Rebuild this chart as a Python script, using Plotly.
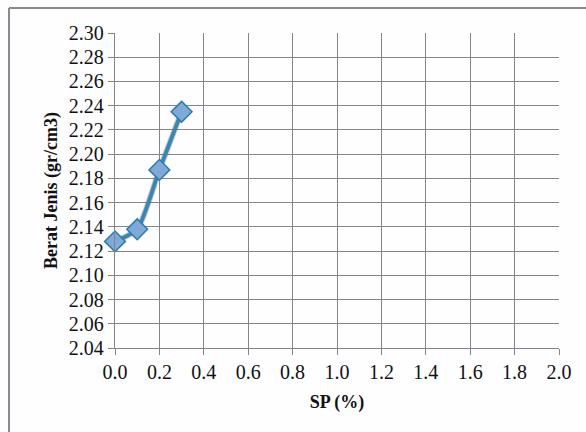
import plotly.graph_objects as go

sp = [0.0, 0.1, 0.2, 0.3]
berat_jenis = [2.128, 2.138, 2.187, 2.235]
x_ticks = [0.0, 0.2, 0.4, 0.6, 0.8, 1.0, 1.2, 1.4, 1.6, 1.8, 2.0]
y_ticks = [2.04, 2.06, 2.08, 2.10, 2.12, 2.14, 2.16, 2.18, 2.20, 2.22, 2.24, 2.26, 2.28, 2.30]

fig = go.Figure()
fig.add_trace(go.Scatter(
    x=sp, y=berat_jenis, mode="lines",
    line=dict(color="rgba(60,60,60,0.25)", width=6, shape="spline", smoothing=0.6),
    hoverinfo="skip", showlegend=False, cliponaxis=False,
))
fig.add_trace(go.Scatter(
    x=sp, y=berat_jenis, mode="lines+markers",
    line=dict(color="#3b87b3", width=4, shape="spline", smoothing=0.6),
    marker=dict(symbol="diamond", size=16, color="#7faad8",
                line=dict(color="#2f7aa8", width=1.5)),
    showlegend=False, cliponaxis=False,
))

font = dict(family="Liberation Serif", size=20, color="#111")
fig.update_layout(
    width=586, height=432,
    margin=dict(l=115, r=27, t=33, b=84),
    paper_bgcolor="#fefdff", plot_bgcolor="#fefdff",
    font=font,
    xaxis=dict(range=[0, 2.0], tickvals=x_ticks, ticktext=[f"{v:.1f}" for v in x_ticks],
               showgrid=True, gridcolor="#858585", gridwidth=1.4,
               showline=True, linecolor="#858585", linewidth=1.4,
               ticks="outside", ticklen=6, tickcolor="#858585", tickwidth=1.4,
               zeroline=False, tickfont=dict(size=20),
               title=dict(text="<b>SP (%)</b>", font=dict(size=18), standoff=13)),
    yaxis=dict(range=[2.04, 2.30], tickvals=y_ticks, ticktext=[f"{v:.2f}" for v in y_ticks],
               showgrid=True, gridcolor="#858585", gridwidth=1.4,
               showline=True, linecolor="#858585", linewidth=1.4,
               ticks="outside", ticklen=6, tickcolor="#858585", tickwidth=1.4,
               zeroline=False, tickfont=dict(size=20),
               title=dict(text="<b>Berat Jenis (gr/cm3)</b>", font=dict(size=18), standoff=6)),
    shapes=[
        dict(type="line", xref="paper", yref="paper", x0=-0.2387, x1=1.2, y0=1.0794, y1=1.0794,
             line=dict(color="#8a8a8a", width=2)),
        dict(type="line", xref="paper", yref="paper", x0=-0.2387, x1=-0.2387, y0=1.0794, y1=-0.3,
             line=dict(color="#8a8a8a", width=2)),
    ],
)
fig.write_html("out.html")
